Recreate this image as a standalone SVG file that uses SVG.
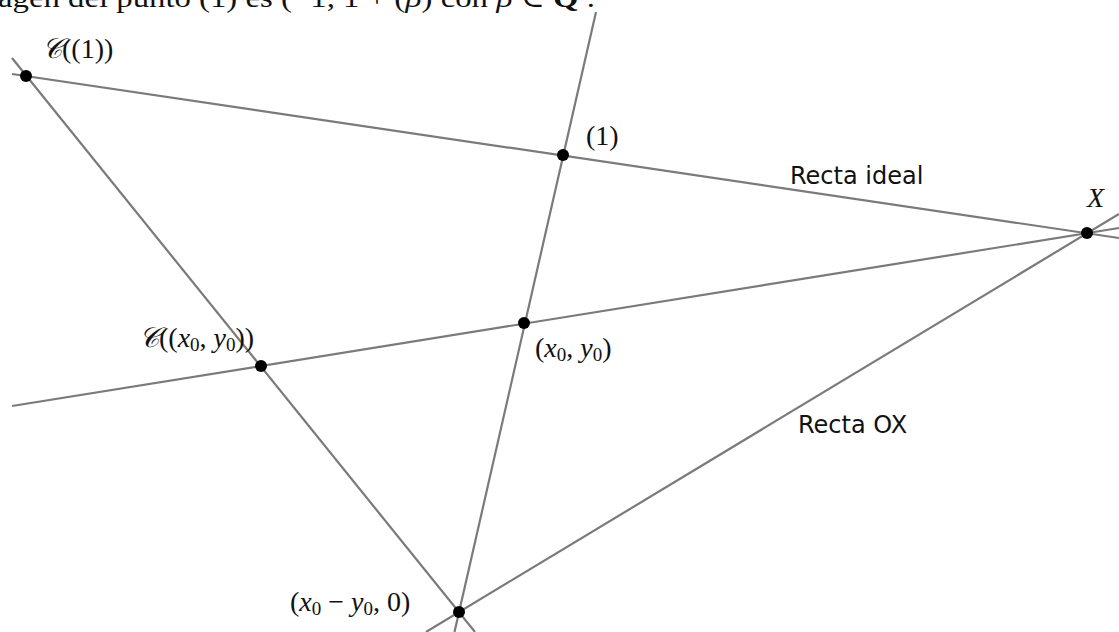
<svg xmlns="http://www.w3.org/2000/svg" width="1119" height="632" viewBox="0 0 1119 632">
<style>
.ln{stroke:#7a7a7a;stroke-width:2.2;fill:none}
.pt{fill:#000}
.m{font-family:"Liberation Serif","DejaVu Serif",serif;font-size:28px;fill:#111}
.i{font-style:italic}
.s{font-size:19px}
.lb{font-family:"DejaVu Sans","Liberation Sans",sans-serif;font-size:24px;fill:#111}
</style>
<rect width="1119" height="632" fill="#fff"/>
<text class="m" x="-2" y="7" font-size="30" textLength="597" lengthAdjust="spacingAndGlyphs">agen del punto (1) es (−1, 1 + (<tspan class="i">β</tspan>) con <tspan class="i">β</tspan> ∈ <tspan font-weight="bold">Q</tspan> .</text>
<g id="connectors">
<line class="ln" x1="12" y1="74" x2="1119" y2="238"/>
<line class="ln" x1="12" y1="58" x2="475" y2="632"/>
<line class="ln" x1="596" y1="12" x2="454.5" y2="632"/>
<line class="ln" x1="12" y1="406" x2="1119" y2="228"/>
<line class="ln" x1="426" y1="632" x2="1119" y2="214"/>
</g>
<g id="C1"><circle class="pt" cx="26" cy="76" r="6"/><text class="m" x="42" y="58"><tspan class="i">𝒞</tspan>((1))</text></g>
<g id="P1"><circle class="pt" cx="563" cy="155" r="6"/><text class="m" x="586" y="145">(1)</text></g>
<g id="X"><circle class="pt" cx="1087" cy="233" r="6"/><text class="m i" x="1087" y="207">X</text></g>
<g id="P0"><circle class="pt" cx="524" cy="323" r="6"/><text class="m" x="535" y="357">(<tspan class="i">x</tspan><tspan class="s" dy="4">0</tspan><tspan dy="-4">, </tspan><tspan class="i">y</tspan><tspan class="s" dy="4">0</tspan><tspan dy="-4">)</tspan></text></g>
<g id="C0"><circle class="pt" cx="261" cy="366" r="6"/><text class="m" x="139" y="347"><tspan class="i">𝒞</tspan>((<tspan class="i">x</tspan><tspan class="s" dy="4">0</tspan><tspan dy="-4">, </tspan><tspan class="i">y</tspan><tspan class="s" dy="4">0</tspan><tspan dy="-4">))</tspan></text></g>
<g id="B"><circle class="pt" cx="459" cy="612" r="6"/><text class="m" x="290" y="611">(<tspan class="i">x</tspan><tspan class="s" dy="4">0</tspan><tspan dy="-4"> − </tspan><tspan class="i">y</tspan><tspan class="s" dy="4">0</tspan><tspan dy="-4">, 0)</tspan></text></g>
<g id="labels">
<text class="lb" x="790" y="184">Recta ideal</text>
<text class="lb" x="798" y="433">Recta OX</text>
</g>
</svg>
